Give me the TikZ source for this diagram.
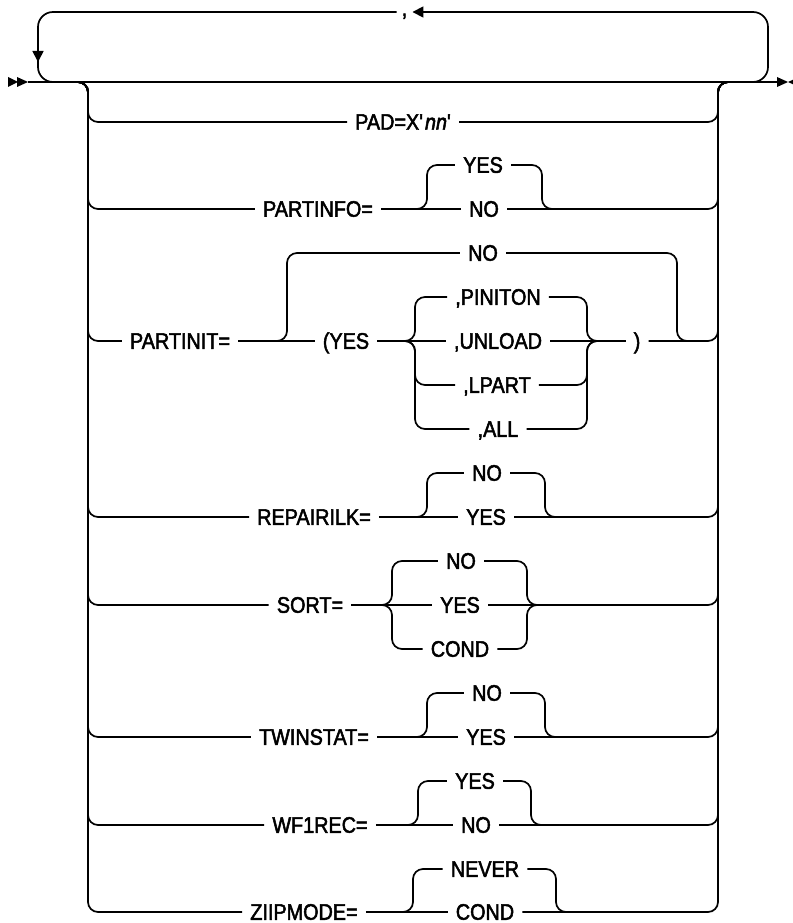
\documentclass[tikz,border=0pt]{standalone}
\usepackage{fontspec}
\setmainfont{Liberation Sans}[Ligatures=TeXOff, FakeBold=2.2, FakeStretch=0.88]
\usetikzlibrary{arrows.meta}
\begin{document}
\begin{tikzpicture}[x=1pt,y=-1pt,
  rail/.style={line width=1.7pt, rounded corners=10pt},
  loop/.style={line width=1.7pt, rounded corners=15pt},
  tip/.style={-{Triangle[length=11pt,width=11pt]}},
  lab/.style={font=\fontsize{22.5}{24}\selectfont, text height=15.5pt, text depth=0pt, inner ysep=0pt, inner xsep=8pt},
  marker/.style={fill=black}]
\useasboundingbox (0,0) rectangle (792,923);

% named junctions
\coordinate (start) at (28,82);
\coordinate (end) at (777,82);
\coordinate (tl) at (78,82);
\coordinate (lv) at (88,82);
\coordinate (rv) at (718,82);
\coordinate (tr) at (728,82);

% start and end markers
\fill[marker] (8,77) -- (18,82) -- (8,87) -- cycle;
\fill[marker] (17,77) -- (28,82) -- (17,87) -- cycle;
\fill[marker] (777,77) -- (788,82) -- (777,87) -- cycle;
\fill[marker] (799,77) -- (788,82) -- (799,87) -- cycle;

% main line
\draw[rail] (start) -- (end);

% repeat loop
\node[lab, inner xsep=5pt, anchor=base] (comma) at (404.5,16) {,};
\coordinate (lr) at (748,82);
\coordinate (ll) at (57,82);
\draw[loop, tip] (lr) -- (768,82) -- (768,12) -- (comma.east |- 0,12);
\draw[loop, tip] (comma.west |- 0,12) -- (38,12) -- (38,62);
\draw[loop] (38,55) -- (38,82) -- (ll);

% ---- PAD
\node[lab] (pad) at (403,122) {PAD=X'\hspace{2pt}\textit{nn}'};
\draw[rail] (tl) -- (lv) |- (pad.west);
\draw[rail] (pad.east) -| (rv) -- (tr);

% ---- PARTINFO
\node[lab] (pinfo) at (318,209) {PARTINFO=};
\node[lab] (pinfoyes) at (483,165) {YES};
\node[lab] (pinfono) at (484,209) {NO};
\draw[rail] (tl) -- (lv) |- (pinfo.west);
\draw[rail] (pinfo.east) -- (pinfono.west);
\draw[rail] (417,209) -- (427,209) |- (pinfoyes.west);
\draw[rail] (pinfoyes.east) -| (542,209) -- (552,209);
\draw[rail] (pinfono.east) -| (rv) -- (tr);

% ---- PARTINIT
\node[lab] (pinit) at (180,341) {PARTINIT=};
\node[lab] (pino) at (483,253) {NO};
\node[lab] (piyes) at (346,341) {(YES};
\node[lab] (pinion) at (498,297) {,PINITON};
\node[lab] (unload) at (498,341) {,UNLOAD};
\node[lab] (lpart) at (497,385) {,LPART};
\node[lab] (pall) at (498,429) {,ALL};
\node[lab] (paren) at (637,341) {)};
\draw[rail] (tl) -- (lv) |- (pinit.west);
\draw[rail] (pinit.east) -- (piyes.west);
\draw[rail] (277,341) -- (287,341) |- (pino.west);
\draw[rail] (pino.east) -| (677,341) -- (687,341);
\draw[rail] (piyes.east) -- (unload.west);
\draw[rail] (405,341) -- (415,341) |- (pinion.west);
\draw[rail] (405,341) -- (415,341) |- (lpart.west);
\draw[rail] (405,341) -- (415,341) |- (pall.west);
\draw[rail] (pinion.east) -| (587,341) -- (597,341);
\draw[rail] (lpart.east) -| (587,341) -- (597,341);
\draw[rail] (pall.east) -| (587,341) -- (597,341);
\draw[rail] (unload.east) -- (paren.west);
\draw[rail] (paren.east) -| (rv) -- (tr);

% ---- REPAIRILK
\node[lab] (rep) at (314,517) {REPAIRILK=};
\node[lab] (repno) at (487,473) {NO};
\node[lab] (repyes) at (486,517) {YES};
\draw[rail] (tl) -- (lv) |- (rep.west);
\draw[rail] (rep.east) -- (repyes.west);
\draw[rail] (417,517) -- (427,517) |- (repno.west);
\draw[rail] (repno.east) -| (545,517) -- (555,517);
\draw[rail] (repyes.east) -| (rv) -- (tr);

% ---- SORT
\node[lab] (sort) at (310,605) {SORT=};
\node[lab] (sno) at (461,561) {NO};
\node[lab] (syes) at (460,605) {YES};
\node[lab] (scond) at (460,649) {COND};
\draw[rail] (tl) -- (lv) |- (sort.west);
\draw[rail] (sort.east) -- (syes.west);
\draw[rail] (382,605) -- (392,605) |- (sno.west);
\draw[rail] (382,605) -- (392,605) |- (scond.west);
\draw[rail] (sno.east) -| (527,605) -- (537,605);
\draw[rail] (scond.east) -| (527,605) -- (537,605);
\draw[rail] (syes.east) -| (rv) -- (tr);

% ---- TWINSTAT
\node[lab] (tw) at (314,737) {TWINSTAT=};
\node[lab] (twno) at (487,693) {NO};
\node[lab] (twyes) at (486,737) {YES};
\draw[rail] (tl) -- (lv) |- (tw.west);
\draw[rail] (tw.east) -- (twyes.west);
\draw[rail] (417,737) -- (427,737) |- (twno.west);
\draw[rail] (twno.east) -| (545,737) -- (555,737);
\draw[rail] (twyes.east) -| (rv) -- (tr);

% ---- WF1REC
\node[lab] (wf) at (320,825) {WF1REC=};
\node[lab] (wfyes) at (475,781) {YES};
\node[lab] (wfno) at (476,825) {NO};
\draw[rail] (tl) -- (lv) |- (wf.west);
\draw[rail] (wf.east) -- (wfno.west);
\draw[rail] (408,825) -- (418,825) |- (wfyes.west);
\draw[rail] (wfyes.east) -| (531,825) -- (541,825);
\draw[rail] (wfno.east) -| (rv) -- (tr);

% ---- ZIIPMODE
\node[lab] (zi) at (304,912) {ZIIPMODE=};
\node[lab] (never) at (485,869) {NEVER};
\node[lab] (zcond) at (485,912) {COND};
\draw[rail] (tl) -- (lv) |- (zi.west);
\draw[rail] (zi.east) -- (zcond.west);
\draw[rail] (403,912) -- (413,912) |- (never.west);
\draw[rail] (never.east) -| (556,912) -- (566,912);
\draw[rail] (zcond.east) -| (rv) -- (tr);
\end{tikzpicture}
\end{document}
